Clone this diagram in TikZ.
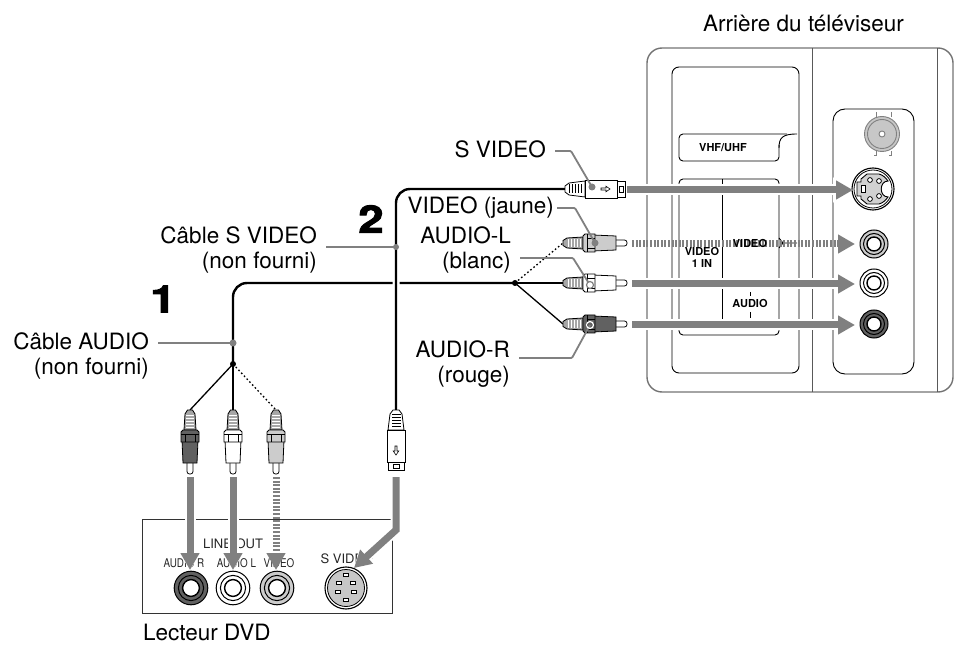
\documentclass[tikz,border=0pt]{standalone}
\usepackage{fontspec}
\setmainfont{TeX Gyre Heros}
\newfontfamily\numfont{TeX Gyre Heros}[UprightFont=* Bold,FakeBold=2.5,FakeStretch=1.2]
\newfontfamily\narrowfont{TeX Gyre Heros}[FakeStretch=0.82]
\usetikzlibrary{arrows.meta}
\definecolor{arrowgray}{gray}{0.5}
\definecolor{plugred}{gray}{0.38}
\definecolor{plugwhite}{gray}{1}
\definecolor{plugyellow}{gray}{0.8}
\tikzset{
  lbl/.style={inner sep=0pt,align=right,font=\fontsize{22.5}{25.5}\selectfont},
  panel/.style={font=\fontsize{11}{12}\selectfont\bfseries,inner sep=0pt,align=center},
  dvdlbl/.style={font=\fontsize{13}{14}\selectfont,inner sep=0pt,text=black!85},
  dvdsmall/.style={font=\fontsize{12}{12}\narrowfont\selectfont,inner sep=0pt,text=black!85},
  numlbl/.style={font=\fontsize{38}{38}\numfont\selectfont,inner sep=0pt},
  bigarrow/.style={draw=arrowgray,line width=7pt,-{Triangle[length=17pt,width=18pt]},
    preaction={draw=white,line width=11pt,-{Triangle[length=20pt,width=24pt]}}},
  dotarrow/.style={draw=arrowgray,line width=7pt,dash pattern=on 2pt off 1.6pt,-{Triangle[length=17pt,width=18pt,fill=arrowgray]}},
  leader/.style={draw=arrowgray,line width=1.8pt,shorten <=9pt,rounded corners=1pt},
  cable/.style={line width=2.4pt,rounded corners=14pt},
  wire/.style={line width=1.3pt},
  wiredot/.style={line width=1.3pt,dash pattern=on 1.6pt off 2.4pt},
  pics/plug/.style={code={
    \draw[line width=.8pt,fill=black!35] (0,-2.5) -- (4,-5) -- (20,-6) -- (20,6) -- (4,5) -- (0,2.5) -- cycle;
    \foreach \r in {5,8,11,14,17}{\draw[white,line width=1pt] (\r,-4) -- (\r,4);}
    \draw[line width=.8pt,fill=white,rounded corners=2.5pt] (53,-3) -- (64,-3) -- (64,3) -- (53,3);
    \draw[line width=.8pt,fill=#1] (30,-8) -- (53,-7) -- (53,7) -- (30,8) -- cycle;
    \draw[line width=.8pt,fill=#1] (20,-7) -- (22,-9) -- (32,-9) -- (32,9) -- (22,9) -- (20,7) -- cycle;
    \draw[line width=.8pt] (24,-9) -- (24,9) (24,-5) -- (32,-5) (24,5) -- (32,5);
  }},
  pics/splug/.style={code={
    \draw[line width=.8pt,fill=white] (0,-3) -- (4,-6) -- (20,-8) -- (20,8) -- (4,6) -- (0,3) -- cycle;
    \foreach \r in {4,7,10,13,16}{\draw[black,line width=1pt] (\r,-4.5) -- (\r,4.5);}
    \draw[line width=.8pt,fill=white] (20,-9) -- (52,-9) -- (52,9) -- (20,9) -- cycle;
    \draw[line width=.8pt,fill=white] (52,-8) -- (60,-8) -- (60,8) -- (52,8) -- cycle;
    \draw[line width=.8pt] (54,-3) rectangle (58,3);
    \draw[line width=.6pt] (36,-1) -- (41,-1) -- (41,-2.8) -- (45,0) -- (41,2.8) -- (41,1) -- (36,1) -- cycle;
  }},
  pics/jack/.style={code={
    \draw[line width=1pt,fill=#1] (0,0) circle (14pt);
    \draw[line width=1pt,fill=#1] (0,0) circle (10.5pt);
    \draw[line width=1.4pt,fill=white] (0,0) circle (7pt);
  }},
  pics/svjack/.style={code={
    \draw[line width=1.1pt,fill=white] (0,0) circle (21pt);
    \draw[line width=.8pt,fill=white] (0,0) circle (19pt);
    \draw[line width=.9pt,fill=black!18] (-6,-15) -- (6,-15) .. controls (10,-14) and (13,-11) .. (15,-8)
      .. controls (6,-8) and (6,8) .. (15,8) .. controls (13,11) and (10,14) .. (6,15) -- (-6,15)
      -- (-12,10) -- (-12,7) -- (-16,7) -- (-16,-7) -- (-12,-7) -- (-12,-10) -- cycle;
    \draw[line width=.8pt,fill=white] (-12,-3.5) rectangle (-8,3.5);
    \foreach \a/\b in {-3/-9,6/-8,6/7,-3/10}{\draw[line width=.8pt,fill=white] (\a,\b) circle (2.4pt);}
  }},
  pics/svdvd/.style={code={
    \draw[line width=1.1pt,fill=white] (0,0) circle (21pt);
    \draw[line width=.8pt,fill=black!22] (0,0) circle (18.5pt);
    \foreach \a/\b in {0/-13,-7/-5,7/-5,-8/4,8/4,0/12}{\draw[line width=.8pt,fill=white] (\a-2.8,\b-1.6) rectangle (\a+2.8,\b+1.6);}
  }},
}
\begin{document}
\begin{tikzpicture}[x=1pt,y=-1pt]
  \useasboundingbox (0,0) rectangle (954,647);

  % tv back
  \draw[black!55,line width=1.4pt,rounded corners=15pt] (647,48) rectangle (953,392);
  \draw[black!65,line width=1pt] (812,48) -- (812,392) (937,48) -- (937,392);
  \draw[line width=.9pt,rounded corners=7pt] (672,67) rectangle (799,373);
  \draw[line width=.9pt,rounded corners=12pt] (833,109) rectangle (914,374);
  \draw[line width=.9pt,rounded corners=4pt] (779,145) -- (779,161) -- (679,161) -- (679,134) -- (787,134);
  \draw[line width=.9pt] (779,148) .. controls (779,138) and (782,134) .. (797,134);
  \draw[line width=.9pt,rounded corners=4pt] (722,179) -- (679,179) -- (679,335) -- (779,335) -- (779,179) -- (722,179);
  \draw[line width=.9pt] (722,179) -- (722,330);
  \draw[line width=.9pt] (750,292) -- (750,296) (750,312) -- (750,318);
  \draw[line width=.9pt] (779,238) -- (783,243) -- (779,248) (783,243) -- (797,243);
  \node[panel] (vhf) at (723,148) {VHF/UHF};
  \node[panel] (videoin) at (702,257) {VIDEO\\1 IN};
  \node[panel] (audiotv) at (750,303) {AUDIO};

  % tv jacks
  \draw[black!50,line width=3pt] (875,112) -- (875,117) (890,112) -- (890,117) (875,151) -- (875,156) (890,151) -- (890,156);
  \draw[white,line width=1.4pt] (875,112.5) -- (875,117) (890,112.5) -- (890,117) (875,151) -- (875,155.5) (890,151) -- (890,155.5);
  \draw[black!50,line width=.9pt,fill=black!22] (882,134) circle (17.5pt);
  \draw[black!50,line width=.9pt] (882,134) circle (14.5pt);
  \draw[black!50,line width=.9pt,fill=white] (882,134) circle (3pt);
  \coordinate (tvS) at (873,189);
  \coordinate (tvY) at (874,244);
  \coordinate (tvW) at (874,283);
  \coordinate (tvR) at (874,324);
  \pic at (tvS) {svjack};
  \pic at (tvY) {jack=plugyellow};
  \pic at (tvW) {jack=plugwhite};
  \pic at (tvR) {jack=plugred};

  % dvd player
  \draw[line width=1pt,black!80] (142,519) rectangle (392,613);
  \node[dvdlbl] (lineout) at (233,544) {LINE OUT};
  \node[dvdsmall] (dvdaudr) at (184,563) {AUDIO R};
  \node[dvdsmall] (dvdaudl) at (236.5,563) {AUDIO L};
  \node[dvdsmall] (dvdvid) at (279,563) {VIDEO};
  \node[dvdlbl] (dvdsv) at (347,559) {S VIDEO};
  \coordinate (dvdR) at (191,588);
  \coordinate (dvdW) at (233,588);
  \coordinate (dvdY) at (277,588);
  \coordinate (dvdS) at (346,588);
  \pic[scale=1.2] at (dvdR) {jack=plugred};
  \pic[scale=1.2] at (dvdW) {jack=plugwhite};
  \pic[scale=1.2] at (dvdY) {jack=plugyellow};
  \pic at (dvdS) {svdvd};

  % plug positions
  \coordinate (tailS) at (565,189);
  \coordinate (tailY) at (563,243);
  \coordinate (tailW) at (563,283);
  \coordinate (tailR) at (563,324);
  \coordinate (joinTv) at (515,283);
  \coordinate (joinDvd) at (233,364);
  \coordinate (tailDR) at (190,410);
  \coordinate (tailDW) at (233,410);
  \coordinate (tailDY) at (276,410);
  \coordinate (tailDS) at (396,410);

  % cables
  \draw[cable] (joinDvd) -- (233,283) -- (joinTv);
  \draw[cable,preaction={draw=white,line width=7pt}] (tailDS) -- (396,189) -- (tailS);
  \draw[wiredot] (joinTv) -- (tailY);
  \draw[wire] (joinTv) -- (tailW);
  \draw[wire] (joinTv) -- (tailR);
  \draw[wire] (joinDvd) -- (tailDR);
  \draw[wire] (joinDvd) -- (tailDW);
  \draw[wiredot] (joinDvd) -- (tailDY);
  \fill (joinTv) circle (3pt);
  \fill (joinDvd) circle (3pt);

  \pic at (tailS) {splug};
  \pic at (tailY) {plug=plugyellow};
  \pic at (tailW) {plug=plugwhite};
  \pic at (tailR) {plug=plugred};
  \pic[rotate=-90] at (tailDR) {plug=plugred};
  \pic[rotate=-90] at (tailDW) {plug=plugwhite};
  \pic[rotate=-90] at (tailDY) {plug=plugyellow};
  \pic[rotate=-90] at (tailDS) {splug};

  % arrows
  \draw[bigarrow] (627,190) -- (853,190);
  \draw[dotarrow] (632,244) -- (855,244);
  \draw[bigarrow] (632,284) -- (855,284);
  \draw[bigarrow] (632,325) -- (855,325);
  \draw[bigarrow] (190,477) -- (190,570);
  \draw[bigarrow] (233,477) -- (233,570);
  \draw[dotarrow] (276,477) -- (276,570);
  \draw[bigarrow] (396,477) -- (396,530) -- (354,568);
  \node[panel] (videotv) at (750,243) {VIDEO};

  % labels
  \node[lbl,anchor=west] (tvback) at (703,23) {Arrière du téléviseur};
  \node[lbl,anchor=west] (dvd) at (143,632) {Lecteur DVD};
  \node[lbl,anchor=east] (svideo) at (546,149) {S VIDEO};
  \node[lbl,anchor=east] (video) at (554,208) {VIDEO (jaune)};
  \node[lbl,anchor=east] (audiol) at (511,250) {AUDIO-L\\(blanc)};
  \node[lbl,anchor=east] (audior) at (510,364) {AUDIO-R\\(rouge)};
  \node[lbl,anchor=east] (cables) at (317,250) {Câble S VIDEO\\(non fourni)};
  \node[lbl,anchor=east] (cablea) at (149,356) {Câble AUDIO\\(non fourni)};
  \node[numlbl] (one) at (163,299) {1};
  \node[numlbl] (two) at (371,219) {2};

  % leaders
  \coordinate (dotS) at (592,187);
  \coordinate (dotY) at (595,243);
  \coordinate (dotW) at (590,285);
  \coordinate (dotR) at (590,325);
  \coordinate (dotCs) at (396,247);
  \coordinate (dotCa) at (233,343);
  \draw[leader] ([yshift=-2pt]svideo.east) -- (571,151) -- (dotS);
  \fill[arrowgray] (dotS) circle (3.5pt);
  \draw[leader,shorten <=3pt] (video.east) -- (575,208) -- (dotY);
  \fill[arrowgray] (dotY) circle (3.5pt);
  \draw[leader] ([yshift=-8pt]audiol.east) -- (573,258) -- (dotW);
  \draw[arrowgray,line width=1.2pt,fill=white] (dotW) circle (3.5pt);
  \draw[leader] ([yshift=6pt]audior.east) -- (572,358) -- (dotR);
  \draw[white,line width=1.2pt] (dotR) circle (3.5pt);
  \draw[leader] ([yshift=3pt]cables.east) -- (dotCs);
  \fill[arrowgray] (dotCs) circle (3pt);
  \draw[leader] ([yshift=13pt]cablea.east) -- (dotCa);
  \fill[arrowgray] (dotCa) circle (3.5pt);
\end{tikzpicture}
\end{document}
